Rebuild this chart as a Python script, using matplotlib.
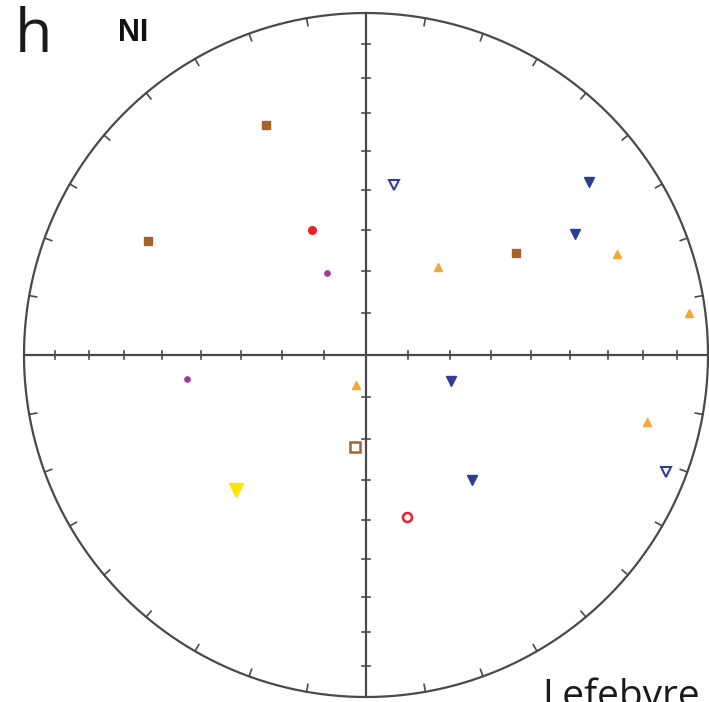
import numpy as np
import matplotlib
matplotlib.use("Agg")
import matplotlib.pyplot as plt

# 数据：trend / plunge（度），下半球等面积投影
brown_trend = [336.5, 297.6, 55.8]
brown_plunge = [27.5, 28.9, 45.9]
brown_open_trend = [186.8]
brown_open_plunge = [67.9]
red_trend = [336.6]
red_plunge = [57.3]
red_open_trend = [165.8]
red_open_plunge = [49.6]
magenta_trend = [334.6, 262.4]
magenta_plunge = [68.4, 46.1]
blue_trend = [52.2, 59.9, 107.0, 139.7]
blue_plunge = [18.6, 30.1, 68.8, 50.4]
blue_open_trend = [9.4, 111.3]
blue_open_plunge = [48.3, 6.5]
orange_trend = [39.3, 68.1, 82.6, 198.4, 103.4]
orange_plunge = [62.8, 22.0, 5.3, 82.5, 16.6]
yellow_trend = [223.9]
yellow_plunge = [44.4]

TICK_DIPS = np.arange(10, 90, 10)
TICK_AZ = np.arange(0, 360, 10)


def project(trend, plunge):
    t = np.radians(np.asarray(trend, float))
    r = np.sqrt(2) * np.sin(np.radians(90 - np.asarray(plunge, float)) / 2)
    return r * np.sin(t), r * np.cos(t)


fig = plt.figure(figsize=(7.09, 7.02), dpi=100)
ax = fig.add_axes([0, 0, 1, 1])
ax.set_xlim(-366 / 342, 343 / 342)
ax.set_ylim(-347 / 342, 355 / 342)
ax.set_aspect("equal")
ax.axis("off")

lc = "#4a4a4a"
th = np.linspace(0, 2 * np.pi, 721)
ax.plot(np.cos(th), np.sin(th), color=lc, lw=1.6, clip_on=False)
ax.plot([-1, 1], [0, 0], color=lc, lw=1.6)
ax.plot([0, 0], [-1, 1], color=lc, lw=1.6)

# 外圈刻度（向内）
for az in TICK_AZ:
    a = np.radians(az)
    ax.plot([np.sin(a), 0.978 * np.sin(a)], [np.cos(a), 0.978 * np.cos(a)],
            color=lc, lw=1.2, clip_on=False)

# 轴上刻度（等面积倾角 10°..80°）
h = 0.012
for d in TICK_DIPS:
    r = np.sqrt(2) * np.sin(np.radians(90 - d) / 2)
    for s in (-1, 1):
        ax.plot([s * r, s * r], [-h, h], color=lc, lw=1.2)
        ax.plot([-h, h], [s * r, s * r], color=lc, lw=1.2)


def pts(trend, plunge, **kw):
    x, y = project(trend, plunge)
    ax.plot(x, y, ls="none", zorder=5, **kw)


pts(brown_trend, brown_plunge, marker="s", ms=5.8, color="#a5622a", mec="#a5622a")
pts(brown_open_trend, brown_open_plunge, marker="s", ms=6.5, mfc="white",
    mec="#a5622a", mew=1.8)
pts(red_trend, red_plunge, marker="o", ms=5.5, color="#e8202a")
pts(red_open_trend, red_open_plunge, marker="o", ms=6.5, mfc="white",
    mec="#e8202a", mew=1.8)
pts(magenta_trend, magenta_plunge, marker="o", ms=3.8, color="#a23a9c")
pts(blue_trend, blue_plunge, marker="v", ms=6.5, color="#2c3f94")
pts(blue_open_trend, blue_open_plunge, marker="v", ms=7, mfc="white",
    mec="#2c3f94", mew=1.5)
pts(orange_trend, orange_plunge, marker="^", ms=6, color="#f5a733")
pts(yellow_trend, yellow_plunge, marker="v", ms=10, color="#ffe400")

fig.text(15 / 709, 1 - 6 / 702, "h", fontsize=44, family="Open Sans",
         va="top", ha="left", color="#1a1a1a")
fig.text(118 / 709, 1 - 18 / 702, "NI", fontsize=22, family="Liberation Sans",
         weight="bold", va="top", ha="left", color="#111111")
fig.text(542 / 709, 1 - 678 / 702, "Lefebvre", fontsize=28, family="Open Sans",
         va="top", ha="left", color="#1a1a1a")

fig.savefig("out.png", dpi=100)
